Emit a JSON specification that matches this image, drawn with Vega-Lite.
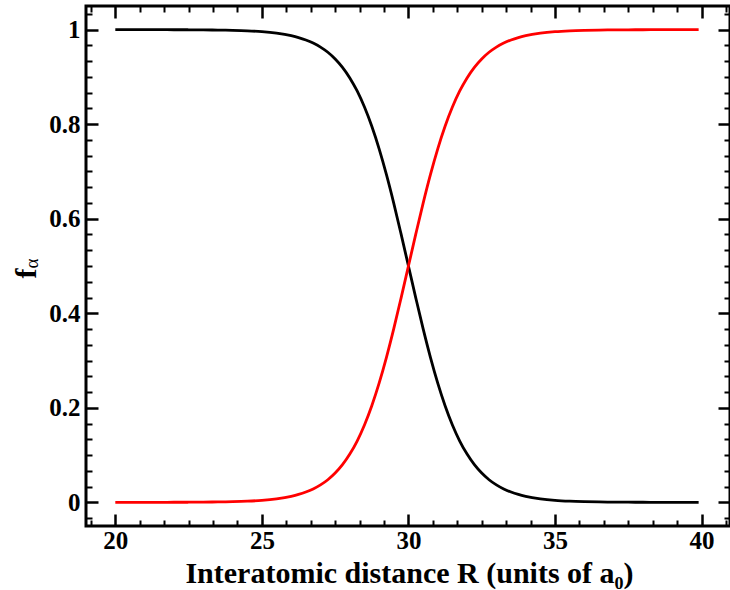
{
  "$schema": "https://vega.github.io/schema/vega-lite/v6.json",
  "width": 644,
  "height": 520,
  "autosize": "none",
  "padding": {"left": 86, "top": 6, "right": 0, "bottom": 64},
  "background": "white",
  "config": {
    "view": {"stroke": "black", "strokeWidth": 3},
    "font": "Liberation Serif",
    "axis": {
      "domain": false,
      "grid": false,
      "labelFont": "Liberation Serif",
      "labelFontWeight": "bold",
      "labelFontSize": 25,
      "labelColor": "black",
      "titleFont": "Liberation Serif",
      "titleFontWeight": "bold",
      "titleColor": "black",
      "tickColor": "black"
    }
  },
  "data": {
    "values": [
      {"R": 20, "red": 0.0000, "black": 1.0000},
      {"R": 20.5, "red": 0.0000, "black": 1.0000},
      {"R": 21, "red": 0.0001, "black": 0.9999},
      {"R": 21.5, "red": 0.0001, "black": 0.9999},
      {"R": 22, "red": 0.0002, "black": 0.9998},
      {"R": 22.5, "red": 0.0003, "black": 0.9997},
      {"R": 23, "red": 0.0005, "black": 0.9995},
      {"R": 23.5, "red": 0.0009, "black": 0.9991},
      {"R": 24, "red": 0.0015, "black": 0.9985},
      {"R": 24.5, "red": 0.0025, "black": 0.9975},
      {"R": 25, "red": 0.0043, "black": 0.9957},
      {"R": 25.5, "red": 0.0075, "black": 0.9925},
      {"R": 26, "red": 0.0128, "black": 0.9872},
      {"R": 26.25, "red": 0.0167, "black": 0.9833},
      {"R": 26.5, "red": 0.0218, "black": 0.9782},
      {"R": 26.75, "red": 0.0284, "black": 0.9716},
      {"R": 27, "red": 0.0369, "black": 0.9631},
      {"R": 27.25, "red": 0.0479, "black": 0.9521},
      {"R": 27.5, "red": 0.0620, "black": 0.9380},
      {"R": 27.75, "red": 0.0797, "black": 0.9203},
      {"R": 28, "red": 0.1021, "black": 0.8979},
      {"R": 28.25, "red": 0.1298, "black": 0.8702},
      {"R": 28.5, "red": 0.1638, "black": 0.8362},
      {"R": 28.75, "red": 0.2045, "black": 0.7955},
      {"R": 29, "red": 0.2522, "black": 0.7478},
      {"R": 29.25, "red": 0.3068, "black": 0.6932},
      {"R": 29.5, "red": 0.3674, "black": 0.6326},
      {"R": 29.75, "red": 0.4327, "black": 0.5673},
      {"R": 30, "red": 0.5000, "black": 0.5000},
      {"R": 30.25, "red": 0.5673, "black": 0.4327},
      {"R": 30.5, "red": 0.6326, "black": 0.3674},
      {"R": 30.75, "red": 0.6932, "black": 0.3068},
      {"R": 31, "red": 0.7478, "black": 0.2522},
      {"R": 31.25, "red": 0.7955, "black": 0.2045},
      {"R": 31.5, "red": 0.8362, "black": 0.1638},
      {"R": 31.75, "red": 0.8702, "black": 0.1298},
      {"R": 32, "red": 0.8979, "black": 0.1021},
      {"R": 32.25, "red": 0.9203, "black": 0.0797},
      {"R": 32.5, "red": 0.9380, "black": 0.0620},
      {"R": 32.75, "red": 0.9521, "black": 0.0479},
      {"R": 33, "red": 0.9631, "black": 0.0369},
      {"R": 33.25, "red": 0.9716, "black": 0.0284},
      {"R": 33.5, "red": 0.9782, "black": 0.0218},
      {"R": 33.75, "red": 0.9833, "black": 0.0167},
      {"R": 34, "red": 0.9872, "black": 0.0128},
      {"R": 34.5, "red": 0.9925, "black": 0.0075},
      {"R": 35, "red": 0.9957, "black": 0.0043},
      {"R": 35.5, "red": 0.9975, "black": 0.0025},
      {"R": 36, "red": 0.9985, "black": 0.0015},
      {"R": 36.5, "red": 0.9991, "black": 0.0009},
      {"R": 37, "red": 0.9995, "black": 0.0005},
      {"R": 37.5, "red": 0.9997, "black": 0.0003},
      {"R": 38, "red": 0.9998, "black": 0.0002},
      {"R": 38.5, "red": 0.9999, "black": 0.0001},
      {"R": 39, "red": 0.9999, "black": 0.0001},
      {"R": 39.5, "red": 1.0000, "black": 0.0000},
      {"R": 39.9, "red": 1.0000, "black": 0.0000}
    ]
  },
  "transform": [{"fold": ["black", "red"], "as": ["series", "f"]}],
  "layer": [
    {
      "mark": {"type": "line", "strokeWidth": 2.8, "interpolate": "monotone", "clip": true},
      "encoding": {
        "x": {
          "field": "R", "type": "quantitative",
          "scale": {"domain": [19, 40.97], "nice": false, "zero": false},
          "axis": {
            "orient": "bottom",
            "values": [20, 25, 30, 35, 40],
            "format": "~g",
            "tickSize": -12, "tickWidth": 2.5,
            "labelPadding": 34, "labelBaseline": "alphabetic",
            "labelFlush": false,
            "title": "Interatomic distance R (units of a₀)",
            "titleFontSize": 30,
            "titleBaseline": "alphabetic",
            "titleY": 56,
            "titleX": 323
          }
        },
        "y": {
          "field": "f", "type": "quantitative",
          "scale": {"domain": [-0.05, 1.05], "nice": false, "zero": false},
          "axis": {
            "orient": "left",
            "values": [0, 0.2, 0.4, 0.6, 0.8, 1],
            "format": "~g",
            "tickSize": -12, "tickWidth": 2.5,
            "labelPadding": 18,
            "labelFlush": false,
            "title": "f",
            "titleFontSize": 30,
            "titleAngle": -90,
            "titleAlign": "center",
            "titleBaseline": "alphabetic",
            "titleX": -51,
            "titleY": 267
          }
        },
        "color": {
          "field": "series", "type": "nominal",
          "scale": {"domain": ["black", "red"], "range": ["#000000", "#ff0000"]},
          "legend": null
        }
      }
    },
    {
      "mark": {"type": "line", "opacity": 0},
      "encoding": {
        "x": {
          "field": "R", "type": "quantitative",
          "axis": {
            "orient": "top",
            "values": [20, 25, 30, 35, 40],
            "tickSize": -12, "tickWidth": 2.5,
            "labels": false, "title": null
          }
        },
        "y": {
          "field": "f", "type": "quantitative",
          "axis": {
            "orient": "right",
            "values": [0, 0.2, 0.4, 0.6, 0.8, 1],
            "tickSize": -12, "tickWidth": 2.5,
            "labels": false, "title": null
          }
        },
        "detail": {"field": "series", "type": "nominal"}
      }
    },
    {
      "mark": {"type": "line", "opacity": 0},
      "encoding": {
        "x": {
          "field": "R", "type": "quantitative",
          "axis": {
            "orient": "bottom",
            "values": [19.1667, 20.8333, 21.6667, 22.5, 23.3333, 24.1667, 25.8333, 26.6667, 27.5, 28.3333, 29.1667, 30.8333, 31.6667, 32.5, 33.3333, 34.1667, 35.8333, 36.6667, 37.5, 38.3333, 39.1667, 40.8333],
            "tickSize": -6, "tickWidth": 2,
            "labels": false, "title": null
          }
        },
        "y": {
          "field": "f", "type": "quantitative",
          "axis": {
            "orient": "left",
            "values": [-0.0333, 0.0333, 0.0667, 0.1, 0.1333, 0.1667, 0.2333, 0.2667, 0.3, 0.3333, 0.3667, 0.4333, 0.4667, 0.5, 0.5333, 0.5667, 0.6333, 0.6667, 0.7, 0.7333, 0.7667, 0.8333, 0.8667, 0.9, 0.9333, 0.9667, 1.0333],
            "tickSize": -6, "tickWidth": 2,
            "labels": false,
            "title": "α",
            "titleFontSize": 19,
            "titleFontWeight": "normal",
            "titleAngle": -90,
            "titleAlign": "center",
            "titleBaseline": "alphabetic",
            "titleX": -49,
            "titleY": 257
          }
        },
        "detail": {"field": "series", "type": "nominal"}
      }
    },
    {
      "mark": {"type": "line", "opacity": 0},
      "encoding": {
        "x": {
          "field": "R", "type": "quantitative",
          "axis": {
            "orient": "top",
            "values": [19.1667, 20.8333, 21.6667, 22.5, 23.3333, 24.1667, 25.8333, 26.6667, 27.5, 28.3333, 29.1667, 30.8333, 31.6667, 32.5, 33.3333, 34.1667, 35.8333, 36.6667, 37.5, 38.3333, 39.1667, 40.8333],
            "tickSize": -6, "tickWidth": 2,
            "labels": false, "title": null
          }
        },
        "y": {
          "field": "f", "type": "quantitative",
          "axis": {
            "orient": "right",
            "values": [-0.0333, 0.0333, 0.0667, 0.1, 0.1333, 0.1667, 0.2333, 0.2667, 0.3, 0.3333, 0.3667, 0.4333, 0.4667, 0.5, 0.5333, 0.5667, 0.6333, 0.6667, 0.7, 0.7333, 0.7667, 0.8333, 0.8667, 0.9, 0.9333, 0.9667, 1.0333],
            "tickSize": -6, "tickWidth": 2,
            "labels": false, "title": null
          }
        },
        "detail": {"field": "series", "type": "nominal"}
      }
    }
  ],
  "resolve": {"axis": {"x": "independent", "y": "independent"}}
}
